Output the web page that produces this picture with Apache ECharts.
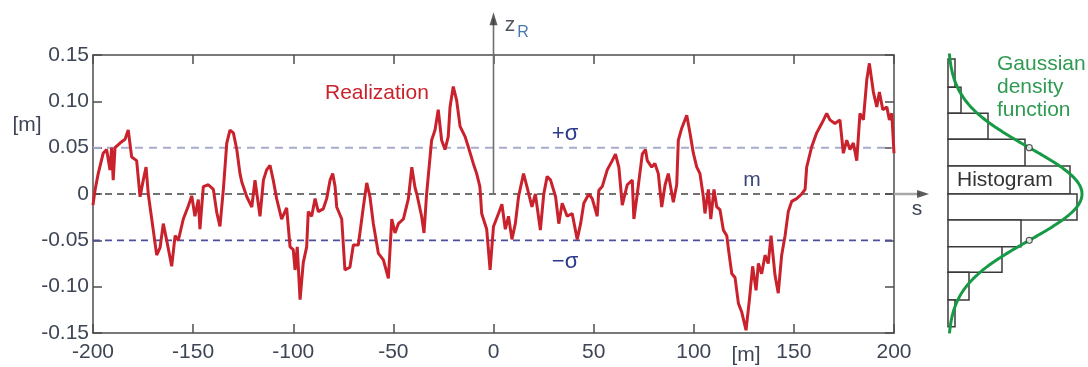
<!DOCTYPE html>
<html><head><meta charset="utf-8">
<script src="https://cdn.jsdelivr.net/npm/echarts@6/dist/echarts.min.js"></script>
<style>html,body{margin:0;padding:0;background:#fff}#c{width:1088px;height:367px}</style>
</head><body><div id="c"></div>
<script>
// ---- data ----
const xTickValues = [-200, -150, -100, -50, 0, 50, 100, 150, 200];
const yTickValues = [-0.15, -0.10, -0.05, 0, 0.05, 0.10, 0.15];
const realization = [
[-200,-0.012],[-199,0.004],[-197.4,0.022],[-194.9,0.044],[-193.2,0.048],[-191.5,0.026],[-190.7,0.05],[-189.9,0.015],[-189,0.05],[-186.5,0.055],
[-184,0.059],[-182.4,0.069],[-180.7,0.04],[-178.2,0.036],[-176.5,-0.003],[-174.9,0.015],[-173.5,0.029],[-172.4,0],[-169.9,-0.039],[-168.2,-0.066],
[-166.5,-0.058],[-164.9,-0.032],[-163.2,-0.05],[-160.7,-0.078],[-159,-0.045],[-157.4,-0.05],[-154.9,-0.027],[-152.4,-0.013],[-150.7,-0.002],[-149.1,-0.024],
[-147.4,-0.006],[-146.6,-0.038],[-144.9,0.008],[-142.4,0.01],[-139.9,0.005],[-138.2,-0.02],[-136.6,-0.035],[-134.9,0.005],[-133.2,0.055],[-131.6,0.069],
[-129.9,0.066],[-128.2,0.048],[-126.6,0.022],[-125.7,0.013],[-123.2,-0.003],[-120.7,-0.014],[-119.1,0.015],[-116.6,-0.024],[-114.9,0.015],[-113.3,0.026],
[-111.6,0.031],[-110,0.015],[-108.3,-0.005],[-105.8,-0.027],[-103.3,-0.015],[-101.6,-0.057],[-100,-0.06],[-99.1,-0.082],[-98,-0.057],[-96.6,-0.114],
[-95,-0.074],[-93.3,-0.057],[-92.5,-0.019],[-90.8,-0.024],[-89.1,-0.005],[-87.5,-0.019],[-85,-0.016],[-83.3,-0.005],[-81.6,0.015],[-80.3,0.022],
[-79.1,0.008],[-78.3,-0.014],[-75.8,-0.027],[-74.2,-0.082],[-71.7,-0.079],[-70,-0.055],[-67.5,-0.055],[-65,-0.014],[-63.3,0.012],[-61.7,-0.003],
[-60,-0.032],[-57.5,-0.064],[-55,-0.071],[-52.5,-0.091],[-50.8,-0.027],[-49.2,-0.042],[-47.5,-0.032],[-45,-0.027],[-42.5,-0.005],[-40.8,0.029],
[-39.2,0.007],[-38.3,0],[-35.9,-0.024],[-34.7,-0.042],[-33.4,0],[-30.9,0.058],[-29.2,0.069],[-27.6,0.091],[-25.9,0.058],[-24.2,0.048],
[-22.6,0.062],[-21.7,0.094],[-20.1,0.116],[-18.4,0.101],[-16.7,0.073],[-14.2,0.062],[-12.6,0.051],[-10.1,0.033],[-8.4,0.022],[-6.8,0.008],
[-5.9,-0.021],[-3.4,-0.038],[-1.7,-0.082],[0,-0.035],[2.5,-0.021],[4.2,-0.011],[5.9,-0.038],[7.5,-0.024],[9.2,-0.049],[10.9,-0.032],
[12.5,-0.003],[15,0.022],[16.7,0.008],[19.2,-0.014],[20.9,0],[23.4,-0.039],[25.1,0],[26.8,0.019],[28.5,0.015],[31,-0.003],
[32.6,-0.032],[34.3,-0.01],[36.8,-0.024],[39.3,-0.021],[41.8,-0.049],[43.5,-0.032],[45.1,-0.01],[47.6,0],[49.3,-0.005],[51.8,-0.024],
[52.6,0.004],[54.3,0.008],[56.8,0.026],[59.3,0.036],[60.9,0.043],[62.6,0.029],[64.3,-0.012],[66.8,0.01],[69.3,0.015],[70.1,-0.027],
[71.8,0],[74.3,0.043],[75.9,0.048],[76.8,0.036],[79,0.029],[80.6,0.033],[82.3,0.022],[84,-0.014],[85.7,0.01],[87.3,0.022],
[89.8,-0.009],[91.5,0.01],[92.3,0.058],[94,0.071],[96.5,0.085],[98.1,0.066],[99.8,0.044],[101.5,0.029],[103.1,0.022],[104.8,-0.003],
[105.6,-0.021],[107.3,0.005],[108.5,-0.027],[110.1,0.005],[111.5,-0.014],[113.1,-0.017],[114.8,-0.039],[116.5,-0.045],[117.3,-0.059],[119,-0.086],
[120.6,-0.09],[122.3,-0.118],[123.9,-0.127],[126.1,-0.147],[127.8,-0.114],[129.4,-0.078],[131.1,-0.104],[132.3,-0.075],[133.9,-0.086],[135.6,-0.066],
[137.2,-0.075],[138.6,-0.045],[140.6,-0.088],[142.2,-0.107],[143.9,-0.066],[145.6,-0.045],[147.2,-0.019],[148.9,-0.008],[151.4,-0.005],[153.9,0],
[155.6,0.005],[156.4,0.029],[158.9,0.051],[161.4,0.066],[163.9,0.076],[166.4,0.087],[168,0.08],[170.5,0.076],[173,0.08],[174.7,0.044],
[176.4,0.058],[178,0.048],[179.7,0.055],[181.4,0.036],[183,0.087],[184.7,0.08],[186.4,0.123],[187.7,0.141],[189.7,0.11],[191.4,0.094],
[192.7,0.11],[194.4,0.091],[196.4,0.094],[197.7,0.08],[198.9,0.087],[200,0.044]
];
const histEdges = [0.1457, 0.1151, 0.0871, 0.0590, 0.0302, 0, -0.0281, -0.0569, -0.0845, -0.1144, -0.1432];
const histCounts = [7, 13, 40, 77, 122, 129, 73, 54, 21, 7];
const meanValue = 0;
const sigmaValue = 0.05;
const gaussPeak = 134;
const gaussZMin = -0.1505, gaussZMax = 0.1536;
const zAxisArrow = 0.189;   // top of z_R arrow (data units)
const sAxisArrow = 214;     // end of s arrow (data units)

// ---- build ----
const FONT = '"Liberation Sans", Arial, Helvetica, sans-serif';
const AX = '#4d4d4d';
const LBL = '#3e4656';
function gauss(z){ return gaussPeak * Math.exp(-0.5 * Math.pow((z - meanValue) / sigmaValue, 2)); }
const gaussData = [];
for (let i = 0; ; i++) { const z = gaussZMin + i * 0.0025; if (z > gaussZMax + 1e-9) break; gaussData.push([gauss(z), z]); }
gaussData.push([gauss(gaussZMax), gaussZMax]);
const axisArrowStyles = [{stroke: '#a8a8a8', lineWidth: 2.5}, {stroke: '#707070', lineWidth: 1.6}];

const chart = echarts.init(document.getElementById('c'), null, {renderer: 'canvas'});
const tickInside = {show: true, inside: true, length: 9, lineStyle: {color: AX, width: 1.5}};
const option = {
  animation: false,
  backgroundColor: '#fff',
  grid: [
    {left: 93, top: 55, width: 801, height: 278},
    {left: 948, top: 55, width: 140, height: 278}
  ],
  xAxis: [
    {type: 'value', gridIndex: 0, position: 'bottom', min: -200, max: 200, interval: 50,
     axisLine: {show: true, onZero: false, lineStyle: {color: AX, width: 1.5}},
     axisTick: tickInside, splitLine: {show: false},
     axisLabel: {margin: 9, color: LBL, fontSize: 21, fontFamily: FONT, showMinLabel: true, showMaxLabel: true}},
    {type: 'value', gridIndex: 0, position: 'top', min: -200, max: 200, interval: 50,
     axisLine: {show: true, onZero: false, lineStyle: {color: AX, width: 1.5}},
     axisTick: tickInside, splitLine: {show: false}, axisLabel: {show: false}},
    {type: 'value', gridIndex: 1, min: 0, max: 140, show: false}
  ],
  yAxis: [
    {type: 'value', gridIndex: 0, position: 'left', min: -0.15, max: 0.15, interval: 0.05,
     axisLine: {show: true, onZero: false, lineStyle: {color: AX, width: 1.5}},
     axisTick: tickInside, splitLine: {show: false},
     axisLabel: {margin: 4, color: LBL, fontSize: 21, fontFamily: FONT,
       formatter: v => Math.abs(v) < 1e-9 ? '0' : v.toFixed(2)}},
    {type: 'value', gridIndex: 0, position: 'right', min: -0.15, max: 0.15, interval: 0.05,
     axisLine: {show: true, onZero: false, lineStyle: {color: AX, width: 1.5}},
     axisTick: tickInside, splitLine: {show: false}, axisLabel: {show: false}},
    {type: 'value', gridIndex: 1, min: -0.15, max: 0.15, show: false}
  ],
  series: [
    {id: 'zero', type: 'line', xAxisIndex: 0, yAxisIndex: 0, symbol: 'none', silent: true, z: 1,
     data: [[-200, meanValue], [200, meanValue]], lineStyle: {color: '#444', width: 1.6, type: [7, 5]}},
    {id: 'plusSigma', type: 'line', xAxisIndex: 0, yAxisIndex: 0, symbol: 'none', silent: true, clip: false, z: 1,
     data: [[-200, meanValue + sigmaValue], [200, meanValue + sigmaValue]], lineStyle: {color: '#a9abcc', width: 2, type: [8, 6]}},
    {id: 'minusSigma', type: 'line', xAxisIndex: 0, yAxisIndex: 0, symbol: 'none', silent: true, clip: false, z: 1,
     data: [[-200, meanValue - sigmaValue], [200, meanValue - sigmaValue]], lineStyle: {color: '#4b4f9c', width: 1.6, type: [7, 5]}},
    {id: 'axisArrows', type: 'custom', xAxisIndex: 0, yAxisIndex: 0, silent: true, clip: false, z: 3,
     data: [[200, 0, sAxisArrow - 1, 0], [0, 0, 0, zAxisArrow]],
     encode: {x: [0, 2], y: [1, 3]},
     renderItem: function (params, api) {
       const a = api.coord([api.value(0), api.value(1)]);
       const b = api.coord([api.value(2), api.value(3)]);
       return {type: 'line', shape: {x1: a[0], y1: a[1], x2: b[0], y2: b[1]},
               style: axisArrowStyles[params.dataIndex]};
     }},
    {id: 'arrows', type: 'scatter', xAxisIndex: 0, yAxisIndex: 0, silent: true, clip: false, z: 4,
     data: [
       {value: [0, zAxisArrow], symbol: 'triangle', symbolSize: [8, 13], symbolRotate: 0},
       {value: [sAxisArrow + 0.5, 0], symbol: 'triangle', symbolSize: [8, 12], symbolRotate: -90}
     ], itemStyle: {color: '#333'}},
    {id: 'realization', type: 'line', xAxisIndex: 0, yAxisIndex: 0, symbol: 'none', silent: true, z: 2,
     data: realization, lineStyle: {color: '#c9222c', width: 3}},
    {id: 'hist', type: 'custom', xAxisIndex: 2, yAxisIndex: 2, silent: true, z: 2,
     data: histCounts.map((c, i) => [c, histEdges[i], histEdges[i + 1]]),
     encode: {x: 0, y: [1, 2]},
     renderItem: function (params, api) {
       const c = api.value(0), hi = api.value(1), lo = api.value(2);
       const p0 = api.coord([0, hi]), p1 = api.coord([c, lo]);
       return {type: 'rect', shape: {x: p0[0], y: p0[1], width: p1[0] - p0[0], height: p1[1] - p0[1]},
               style: {fill: '#fff', stroke: '#3a3a3a', lineWidth: 1.5}};
     }},
    {id: 'gauss', type: 'line', xAxisIndex: 2, yAxisIndex: 2, symbol: 'none', silent: true, smooth: true, z: 3,
     data: gaussData, lineStyle: {color: '#169a45', width: 3}},
    {id: 'circles', type: 'scatter', xAxisIndex: 2, yAxisIndex: 2, silent: true, z: 5,
     data: [[gauss(meanValue + sigmaValue), meanValue + sigmaValue], [gauss(meanValue - sigmaValue), meanValue - sigmaValue]],
     symbol: 'circle', symbolSize: 6, itemStyle: {color: '#fff', borderColor: '#333', borderWidth: 1.2}}
  ],
  graphic: [
    {type: 'text', x: 325, y: 93, style: {text: 'Realization', font: '21px ' + FONT, fill: '#c9222c', verticalAlign: 'middle'}},
    {type: 'text', x: 565, y: 134, style: {text: '+σ', font: '22px ' + FONT, fill: '#2b3a8c', align: 'center', verticalAlign: 'middle'}},
    {type: 'text', x: 565, y: 262, style: {text: '−σ', font: '22px ' + FONT, fill: '#2b3a8c', align: 'center', verticalAlign: 'middle'}},
    {type: 'text', x: 752, y: 180, style: {text: 'm', font: '21px ' + FONT, fill: '#3a4a7a', align: 'center', verticalAlign: 'middle'}},
    {type: 'text', x: 510, y: 25, style: {text: 'z', font: '21px ' + FONT, fill: '#505560', align: 'center', verticalAlign: 'middle'}},
    {type: 'text', x: 523, y: 33, style: {text: 'R', font: '16px ' + FONT, fill: '#4a78b0', align: 'center', verticalAlign: 'middle'}},
    {type: 'text', x: 917, y: 209, style: {text: 's', font: '21px ' + FONT, fill: '#3e4656', align: 'center', verticalAlign: 'middle'}},
    {type: 'text', x: 27, y: 125, style: {text: '[m]', font: '21px ' + FONT, fill: '#3e4656', align: 'center', verticalAlign: 'middle'}},
    {type: 'text', x: 746, y: 355, style: {text: '[m]', font: '21px ' + FONT, fill: '#3e4656', align: 'center', verticalAlign: 'middle'}},
    {type: 'text', x: 997, y: 64, style: {text: 'Gaussian', font: '21px ' + FONT, fill: '#2e9a52', verticalAlign: 'middle'}},
    {type: 'text', x: 997, y: 87, style: {text: 'density', font: '21px ' + FONT, fill: '#2e9a52', verticalAlign: 'middle'}},
    {type: 'text', x: 997, y: 110, style: {text: 'function', font: '21px ' + FONT, fill: '#2e9a52', verticalAlign: 'middle'}},
    {type: 'text', x: 957, y: 180, z: 100, style: {text: 'Histogram', font: '21px ' + FONT, fill: '#333', verticalAlign: 'middle'}}
  ]
};
chart.setOption(option);

// extend the ±σ lines to the points where they meet the Gaussian curve
function sigmaEnd(z) {
  const px = chart.convertToPixel({xAxisIndex: 2, yAxisIndex: 2}, [gauss(z), z]);
  return chart.convertFromPixel({xAxisIndex: 0, yAxisIndex: 0}, px)[0];
}
chart.setOption({series: [
  {id: 'plusSigma', data: [[-200, meanValue + sigmaValue], [sigmaEnd(meanValue + sigmaValue), meanValue + sigmaValue]]},
  {id: 'minusSigma', data: [[-200, meanValue - sigmaValue], [sigmaEnd(meanValue - sigmaValue), meanValue - sigmaValue]]}
]});
</script>
</body></html>
